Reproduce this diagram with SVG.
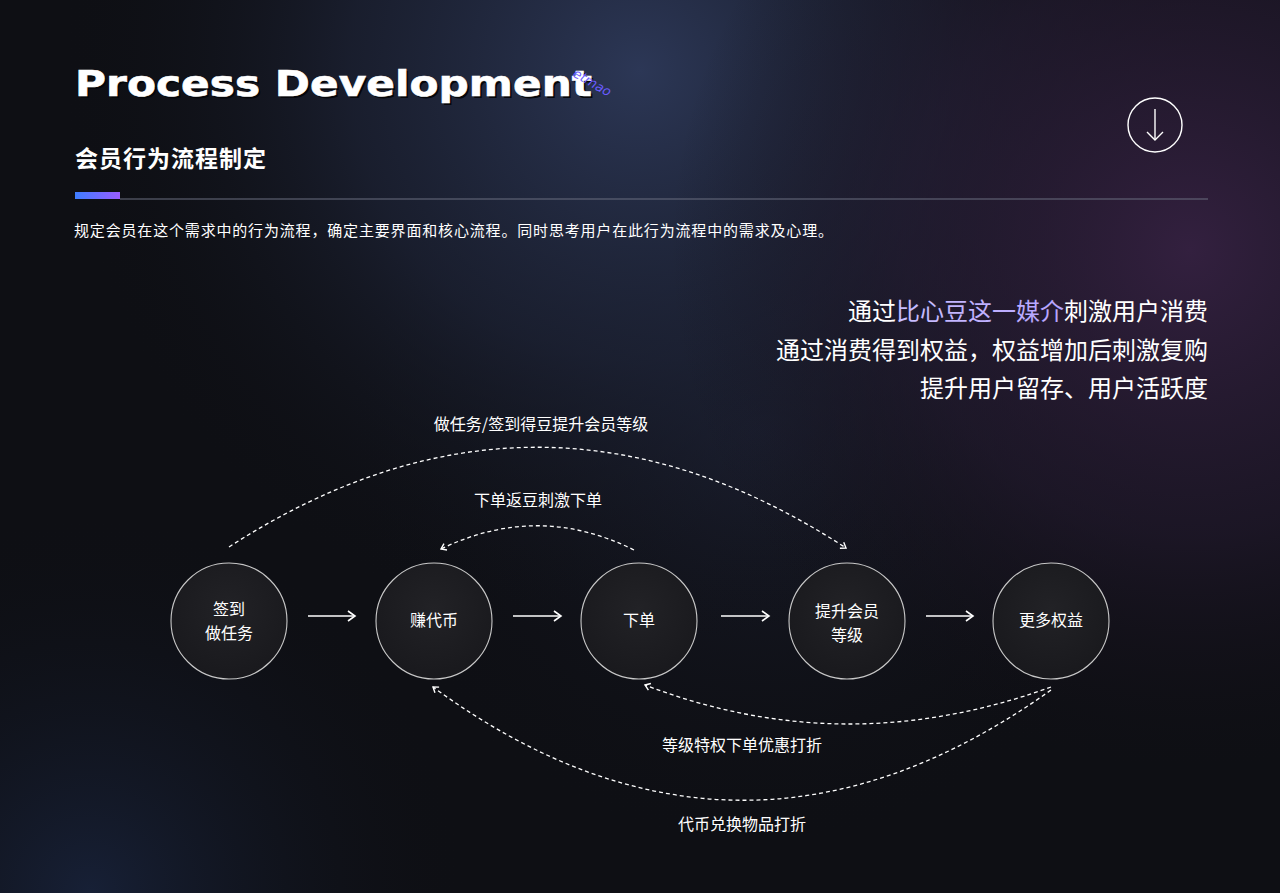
<svg xmlns="http://www.w3.org/2000/svg" width="1280" height="893" viewBox="0 0 1280 893">
<defs>
<radialGradient id="bgBlue" cx="640" cy="70" r="580" gradientUnits="userSpaceOnUse">
<stop offset="0" stop-color="#2c3756"/>
<stop offset="0.5" stop-color="#1e2438" stop-opacity="0.7"/>
<stop offset="1" stop-color="#0e0f14" stop-opacity="0"/>
</radialGradient>
<radialGradient id="bgPurple" cx="1190" cy="250" r="520" gradientUnits="userSpaceOnUse">
<stop offset="0" stop-color="#33203f"/>
<stop offset="0.55" stop-color="#241a30" stop-opacity="0.6"/>
<stop offset="1" stop-color="#120f16" stop-opacity="0"/>
</radialGradient>
<radialGradient id="bgBL" cx="90" cy="893" r="380" gradientUnits="userSpaceOnUse">
<stop offset="0" stop-color="#18223a" stop-opacity="0.9"/>
<stop offset="1" stop-color="#0e0f14" stop-opacity="0"/>
</radialGradient>
<radialGradient id="bgMid" cx="760" cy="430" r="420" gradientUnits="userSpaceOnUse">
<stop offset="0" stop-color="#20243a" stop-opacity="0.7"/>
<stop offset="1" stop-color="#0e0f14" stop-opacity="0"/>
</radialGradient>
<linearGradient id="accent" x1="0" y1="0" x2="1" y2="0">
<stop offset="0" stop-color="#3d7dff"/>
<stop offset="1" stop-color="#9a5cff"/>
</linearGradient>
<linearGradient id="hl" x1="0" y1="0" x2="1" y2="0">
<stop offset="0" stop-color="#cfc8ff"/>
<stop offset="1" stop-color="#a48aff"/>
</linearGradient>
<radialGradient id="nodeFill" cx="0.5" cy="0.4" r="0.6">
<stop offset="0" stop-color="#222226"/>
<stop offset="1" stop-color="#19191d"/>
</radialGradient>
<marker id="solidHead" markerWidth="12" markerHeight="12" refX="9" refY="6" orient="auto" markerUnits="userSpaceOnUse">
<path d="M2,1 L9,6 L2,11" fill="none" stroke="#ffffff" stroke-width="1.6"/>
</marker>
<marker id="dashHead" markerWidth="10" markerHeight="10" refX="7" refY="5" orient="auto" markerUnits="userSpaceOnUse">
<path d="M2,1.5 L7,5 L2,8.5" fill="none" stroke="#ffffff" stroke-width="1.4"/>
</marker>
<style>
.cn{font-family:"Noto Sans CJK SC","Noto Sans",sans-serif;fill:#ffffff}
.node circle{fill:url(#nodeFill);stroke:#c8c8c8;stroke-width:1.1}
.node text{font-family:"Noto Sans CJK SC","Noto Sans",sans-serif;font-size:16px;fill:#ffffff;text-anchor:middle}
.flow{stroke:#ffffff;stroke-width:1.6;fill:none;marker-end:url(#solidHead)}
.dash{stroke:#ffffff;stroke-width:1.3;fill:none;stroke-dasharray:4 3;marker-end:url(#dashHead)}
.lbl{font-family:"Noto Sans CJK SC","Noto Sans",sans-serif;font-size:16px;fill:#ffffff;text-anchor:middle}
.big{font-family:"Noto Sans CJK SC","Noto Sans",sans-serif;font-size:24px;fill:#ffffff;text-anchor:end}
</style>
</defs>

<rect width="1280" height="893" fill="#0e0f14"/>
<rect width="1280" height="893" fill="url(#bgBL)"/>
<rect width="1280" height="893" fill="url(#bgMid)"/>
<rect width="1280" height="893" fill="url(#bgBlue)"/>
<rect width="1280" height="893" fill="url(#bgPurple)"/>

<g id="header">
<text x="77" y="98" font-family="DejaVu Sans" font-weight="bold" font-size="36" fill="#05060a" textLength="517" lengthAdjust="spacingAndGlyphs">Process Development</text>
<text x="75" y="96" font-family="DejaVu Sans" font-weight="bold" font-size="36" fill="#ffffff" stroke="#ffffff" stroke-width="0.6" textLength="517" lengthAdjust="spacingAndGlyphs">Process Development</text>
<text x="572" y="76" font-family="DejaVu Sans" font-style="italic" font-size="13" fill="#6a5cff" transform="rotate(30 572 76)">etmao</text>
<text x="75" y="167" class="cn" font-size="23" font-weight="bold" textLength="191" lengthAdjust="spacing">会员行为流程制定</text>
<rect x="75" y="192" width="45" height="7" fill="url(#accent)"/>
<line x1="120" y1="199" x2="1208" y2="199" stroke="#6a6f80" stroke-width="1"/>
<text x="74" y="236" class="cn" font-size="15" textLength="759" lengthAdjust="spacing">规定会员在这个需求中的行为流程，确定主要界面和核心流程。同时思考用户在此行为流程中的需求及心理。</text>
</g>

<g id="down-icon">
<circle cx="1155" cy="125" r="27" fill="none" stroke="#ffffff" stroke-width="1.4"/>
<line x1="1155" y1="109" x2="1155" y2="140" stroke="#ffffff" stroke-width="1.4"/>
<path d="M1147,132 L1155,140 L1163,132" fill="none" stroke="#ffffff" stroke-width="1.4"/>
</g>

<g id="summary">
<text x="1208" y="320" class="big">通过<tspan fill="url(#hl)">比心豆这一媒介</tspan>刺激用户消费</text>
<text x="1208" y="359" class="big">通过消费得到权益，权益增加后刺激复购</text>
<text x="1208" y="397" class="big">提升用户留存、用户活跃度</text>
</g>

<g id="connectors">
<line class="flow" x1="308" y1="616" x2="355" y2="616"/>
<line class="flow" x1="513" y1="616" x2="561" y2="616"/>
<line class="flow" x1="721" y1="616" x2="769" y2="616"/>
<line class="flow" x1="926" y1="616" x2="973" y2="616"/>
<path class="dash" d="M229,547 Q538,347 846,548"/>
<path class="dash" d="M634,550 Q538,502 441,549"/>
<path class="dash" d="M1051,687 Q845,762 645,685"/>
<path class="dash" d="M1051,690 Q740,912 433,687"/>
<text x="541" y="430" class="lbl">做任务/签到得豆提升会员等级</text>
<text x="538" y="506" class="lbl">下单返豆刺激下单</text>
<text x="742" y="751" class="lbl">等级特权下单优惠打折</text>
<text x="742" y="830" class="lbl">代币兑换物品打折</text>
</g>

<g id="node-signin" class="node">
<circle cx="229" cy="621" r="58"/>
<text x="229" y="615">签到</text>
<text x="229" y="639">做任务</text>
</g>
<g id="node-earn" class="node">
<circle cx="434" cy="621" r="58"/>
<text x="434" y="626">赚代币</text>
</g>
<g id="node-order" class="node">
<circle cx="639" cy="621" r="58"/>
<text x="639" y="626">下单</text>
</g>
<g id="node-level" class="node">
<circle cx="847" cy="621" r="58"/>
<text x="847" y="617">提升会员</text>
<text x="847" y="641">等级</text>
</g>
<g id="node-more" class="node">
<circle cx="1051" cy="621" r="58"/>
<text x="1051" y="626">更多权益</text>
</g>
</svg>
